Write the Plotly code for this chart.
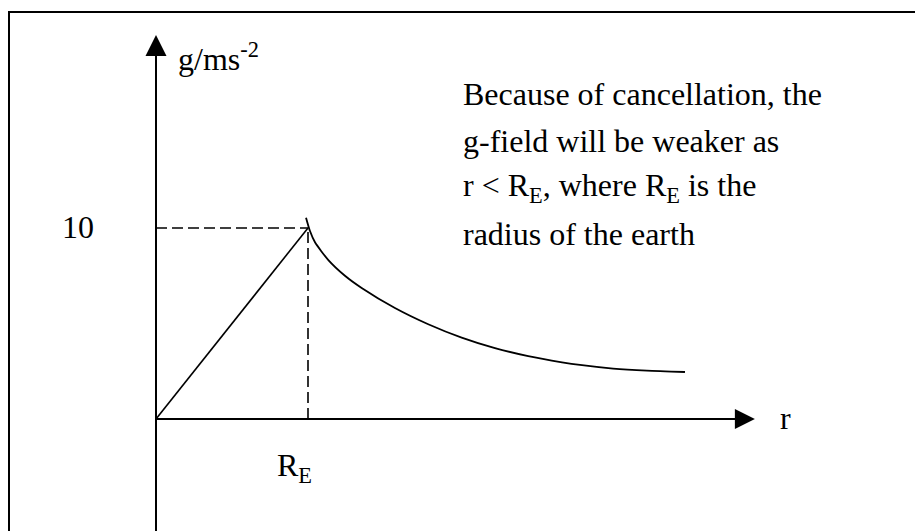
import plotly.graph_objects as go

# ---------------- data (r in units of R_E, g in m s^-2) ----------------
r_inside = [0.0, 1.0]
g_inside = [0.0, 10.0]

r_outside = [0.987, 1.013, 1.046, 1.134, 1.243, 1.353, 1.572, 1.791, 2.011,
             2.230, 2.449, 2.671, 2.789, 3.007, 3.230, 3.480]
g_outside = [10.54, 9.84, 9.25, 8.32, 7.50, 6.86, 5.81, 4.96, 4.26,
             3.71, 3.29, 2.97, 2.83, 2.64, 2.53, 2.46]

R_E = 1.0
g_surface = 10.0

x_axis_end = 3.94   # arrow tip of the r axis
y_axis_end = 20.1   # arrow tip of the g axis

tick_y_label = "10"
tick_x_label = "R<sub>E</sub>"
x_title = "r"
y_title = "g/ms<sup>-2</sup>"
note_lines = [
    "Because of cancellation, the",
    "g-field will be weaker as",
    "r &lt; R<sub>E</sub>, where R<sub>E</sub> is the",
    "radius of the earth",
]

# ---------------- layout geometry ----------------
W, H = 915, 531
X0_PX, PX_PER_R = 156, 152.0     # pixel of r=0, pixels per R_E
Y0_PX, PX_PER_G = 419, 19.1      # pixel of g=0, pixels per unit g
x_range = [(0 - X0_PX) / PX_PER_R, (W - X0_PX) / PX_PER_R]
y_range = [-(H - Y0_PX) / PX_PER_G, Y0_PX / PX_PER_G]

FONT = "Liberation Serif, Times New Roman, serif"
FS = 32
BLACK = "#000000"


def px(x):
    return x / W


def py(y):
    return 1 - y / H


fig = go.Figure()

# axes lines
fig.add_trace(go.Scatter(x=[0, x_axis_end - 0.1], y=[0, 0], mode="lines",
                         line=dict(color=BLACK, width=2), hoverinfo="skip"))
fig.add_trace(go.Scatter(x=[0, 0], y=[y_range[0] - 1, y_axis_end - 0.9], mode="lines",
                         line=dict(color=BLACK, width=2), hoverinfo="skip"))
# arrow heads
fig.add_trace(go.Scatter(x=[x_axis_end], y=[0], mode="markers",
                         marker=dict(symbol="arrow-right", size=20, color=BLACK,
                                     line=dict(width=0)), hoverinfo="skip"))
fig.add_trace(go.Scatter(x=[0], y=[y_axis_end], mode="markers",
                         marker=dict(symbol="arrow-up", size=21, color=BLACK,
                                     line=dict(width=0)), hoverinfo="skip"))

# dashed guides
fig.add_trace(go.Scatter(x=[0, R_E], y=[g_surface, g_surface], mode="lines",
                         line=dict(color=BLACK, width=1.6, dash="11px,5px"),
                         hoverinfo="skip"))
fig.add_trace(go.Scatter(x=[R_E, R_E], y=[0, g_surface], mode="lines",
                         line=dict(color=BLACK, width=1.6, dash="11px,5px"),
                         hoverinfo="skip"))

# g(r) inside and outside
fig.add_trace(go.Scatter(x=r_inside, y=g_inside, mode="lines",
                         line=dict(color=BLACK, width=1.6), hoverinfo="skip"))
fig.add_trace(go.Scatter(x=r_outside, y=g_outside, mode="lines",
                         line=dict(color=BLACK, width=1.8, shape="spline", smoothing=0.6),
                         hoverinfo="skip"))

annotations = []


def label(text, x_left, baseline):
    annotations.append(dict(
        text=text, xref="paper", yref="paper",
        x=px(x_left), y=py(baseline - 0.34 * FS),
        xanchor="left", yanchor="middle", showarrow=False,
        font=dict(family=FONT, size=FS, color=BLACK)))


label(y_title, 176, 68)
label(x_title, 778, 429)
label(tick_y_label, 60, 238)
label(tick_x_label, 275, 478)
for i, line in enumerate(note_lines):
    label(line, 461, 105 + i * 46.7)

fig.update_layout(
    width=W, height=H,
    margin=dict(l=0, r=0, t=0, b=0),
    paper_bgcolor="white", plot_bgcolor="white",
    showlegend=False,
    xaxis=dict(range=x_range, visible=False, fixedrange=True),
    yaxis=dict(range=y_range, visible=False, fixedrange=True),
    annotations=annotations,
    shapes=[dict(type="rect", xref="paper", yref="paper",
                 x0=px(9), x1=1.05, y0=-0.05, y1=py(12),
                 line=dict(color=BLACK, width=2), layer="above")],
)

fig.write_html(
    "out.html",
    config={"displayModeBar": False, "staticPlot": True},
    post_script="document.body.style.margin='0';document.body.style.overflow='hidden';",
)
